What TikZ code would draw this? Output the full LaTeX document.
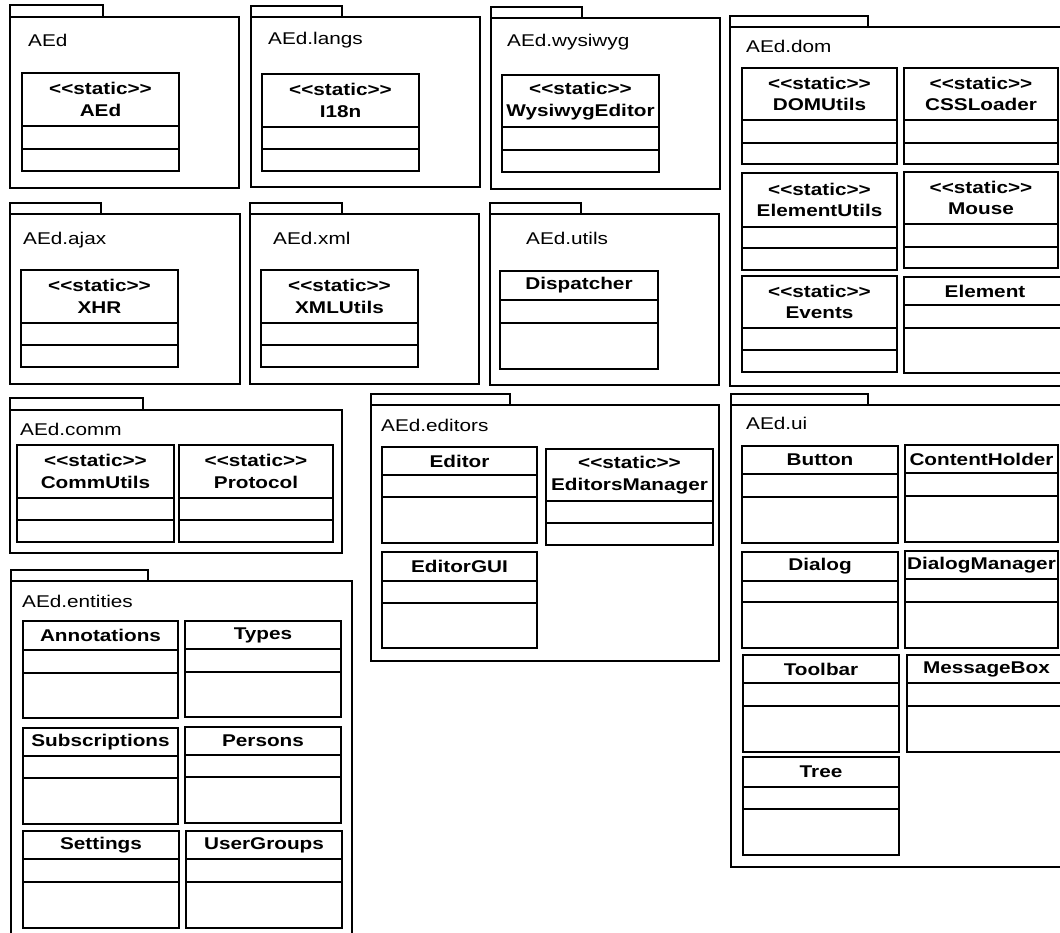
\documentclass[tikz,border=0pt]{standalone}
\usepackage{fontspec}
\newfontfamily\umlfont{Liberation Sans}[FakeStretch=1.22]
\usepackage{tikz}
\usetikzlibrary{positioning}

\tikzset{
  umlline/.style={draw, line width=1.8pt, inner sep=0pt, outer sep=0pt, anchor=north west},
  classhead/.style={umlline, align=center, font=\umlfont\bfseries\fontsize{17}{21.5}\selectfont},
  classpart/.style={umlline},
  pkglabel/.style={inner sep=0pt, anchor=base west, font=\umlfont\fontsize{17}{21.5}\selectfont}
}

% name, x, top, width, head, attributes, operations, title
\newcommand{\umlclass}[8]{%
  \node (#1) [classhead, minimum width=#4, minimum height=#5] at (#2,#3) {#8};
  \node (#1-attr) [classpart, minimum width=#4, minimum height=#6, below=0pt of #1] {};
  \node (#1-ops) [classpart, minimum width=#4, minimum height=#7, below=0pt of #1-attr] {};
}

% name, x, tab top, tab right, body top, right, bottom, label position, label
\newcommand{\umlpackage}[9]{%
  \node (#1-tab) [umlline, minimum width=#4-#2, minimum height=#5-#3] at (#2,#3) {};
  \node (#1) [umlline, minimum width=#6-#2, minimum height=#7-#5] at (#2,#5) {};
  \node (#1-label) [pkglabel] at #8 {#9};
}

\begin{document}
\begin{tikzpicture}[x=1pt, y=-1pt]
\useasboundingbox (0,0) rectangle (1060,933);
\clip (0,0) rectangle (1060,933);

% packages
\umlpackage{pkgaed}{10}{5}{103}{17}{239}{188}{(28,47)}{AEd}
\umlpackage{pkglangs}{251}{6}{342}{17}{480}{187}{(268,45)}{AEd.langs}
\umlpackage{pkgwysiwyg}{491}{7}{582}{18}{720}{189}{(507,47)}{AEd.wysiwyg}
\umlpackage{pkgdom}{730}{16}{868}{27}{1068}{386}{(746,53)}{AEd.dom}
\umlpackage{pkgajax}{10}{203}{101}{214}{240}{384}{(23,245)}{AEd.ajax}
\umlpackage{pkgxml}{250}{203}{342}{214}{479}{384}{(273,245)}{AEd.xml}
\umlpackage{pkgutils}{490}{203}{581}{214}{719}{385}{(526,245)}{AEd.utils}
\umlpackage{pkgcomm}{10}{398}{143}{410}{342}{553}{(20,435)}{AEd.comm}
\umlpackage{pkgeditors}{371}{394}{510}{405}{719}{661}{(381,431)}{AEd.editors}
\umlpackage{pkgentities}{11}{570}{148}{581}{352}{945}{(22,607)}{AEd.entities}
\umlpackage{pkgui}{731}{394}{868}{405}{1068}{867}{(746,429)}{AEd.ui}

% AEd, AEd.langs, AEd.wysiwyg
\umlclass{aed}{22}{73}{157}{53}{23}{22}{<<static>>\\AEd}
\umlclass{i18n}{262}{74}{157}{53}{22}{22}{<<static>>\\I18n}
\umlclass{wysiwygeditor}{502}{75}{157}{52}{23}{22}{<<static>>\\WysiwygEditor}

% AEd.dom
\umlclass{domutils}{742}{68}{155}{52}{23}{21}{<<static>>\\DOMUtils}
\umlclass{cssloader}{904}{68}{154}{52}{23}{21}{<<static>>\\CSSLoader}
\umlclass{elementutils}{742}{173}{155}{54}{21}{22}{<<static>>\\ElementUtils}
\umlclass{mouse}{904}{172}{154}{52}{23}{21}{<<static>>\\Mouse}
\umlclass{events}{742}{276}{155}{52}{22}{22}{<<static>>\\Events}
\umlclass{element}{904}{277}{162}{28}{23}{45}{Element}

% AEd.ajax, AEd.xml, AEd.utils
\umlclass{xhr}{21}{270}{157}{53}{22}{22}{<<static>>\\XHR}
\umlclass{xmlutils}{261}{270}{157}{53}{22}{22}{<<static>>\\XMLUtils}
\umlclass{dispatcher}{500}{271}{158}{29}{23}{46}{Dispatcher}

% AEd.comm
\umlclass{commutils}{17}{445}{157}{53}{22}{22}{<<static>>\\CommUtils}
\umlclass{protocol}{179}{445}{154}{53}{22}{22}{<<static>>\\Protocol}

% AEd.editors
\umlclass{editor}{382}{447}{155}{28}{22}{46}{Editor}
\umlclass{editorsmanager}{546}{449}{167}{52}{22}{22}{<<static>>\\EditorsManager}
\umlclass{editorgui}{382}{552}{155}{29}{22}{45}{EditorGUI}

% AEd.entities
\umlclass{annotations}{23}{621}{155}{29}{23}{45}{Annotations}
\umlclass{types}{185}{621}{156}{28}{23}{45}{Types}
\umlclass{subscriptions}{23}{728}{155}{28}{22}{46}{Subscriptions}
\umlclass{persons}{185}{727}{156}{28}{22}{46}{Persons}
\umlclass{settings}{23}{831}{156}{28}{23}{46}{Settings}
\umlclass{usergroups}{186}{831}{156}{28}{23}{46}{UserGroups}

% AEd.ui
\umlclass{button}{742}{446}{156}{28}{23}{46}{Button}
\umlclass{contentholder}{905}{445}{153}{28}{23}{46}{ContentHolder}
\umlclass{dialog}{742}{552}{156}{29}{21}{46}{Dialog}
\umlclass{dialogmanager}{905}{551}{153}{28}{23}{46}{DialogManager}
\umlclass{toolbar}{743}{655}{156}{28}{23}{46}{Toolbar}
\umlclass{messagebox}{907}{655}{159}{28}{23}{46}{MessageBox}
\umlclass{tree}{743}{757}{156}{30}{22}{46}{Tree}
\end{tikzpicture}
\end{document}
